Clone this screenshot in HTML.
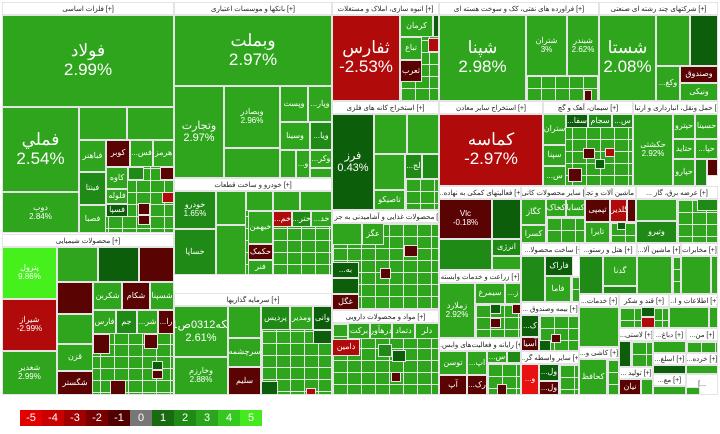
<!DOCTYPE html>
<html><head><meta charset="utf-8"><style>
*{margin:0;padding:0;box-sizing:border-box}
body{width:720px;height:434px;background:#fff;position:relative;overflow:hidden;font-family:"Liberation Sans","Noto Sans CJK SC",sans-serif}
.t{position:absolute;border:1px solid #e4e4e4;background:#2ea51c;color:#fff;display:flex;align-items:center;justify-content:center;text-align:center;font-size:8px;line-height:1.1;overflow:hidden}
.g{background-color:#2ea51c;background-image:linear-gradient(#e4e4e4 1px,transparent 1px),linear-gradient(90deg,#e4e4e4 1px,transparent 1px);background-size:14px 12px}
.h{position:absolute;background:#fff;border:1px solid #e4e4e4;color:#222;font-size:7px;display:flex;align-items:center;justify-content:center;overflow:hidden;white-space:nowrap}
.D{background:#0d5e0b}.M{background:#1f8a15}.R{background:#b00a0a}.K{background:#5a0303}.L{background:#45f01c}.B{background:#e81010}
.big{font-size:17px}.mid{font-size:11px}
.lg{position:absolute;top:410px;height:16px;width:22px;color:#fff;font-size:11px;display:flex;align-items:center;justify-content:center}
</style></head><body>
<div class="h" style="left:2px;top:2px;width:172px;height:13px">فلزات اساسی [+]</div>
<div class="t big" style="left:2px;top:15px;width:172px;height:92px">فولاد<br>2.99%</div>
<div class="t big" style="left:2px;top:107px;width:77px;height:85px">فملي<br>2.54%</div>
<div class="t" style="left:2px;top:192px;width:77px;height:41px">دوب<br>2.84%</div>
<div class="t g" style="left:79px;top:107px;width:95px;height:126px"></div>
<div class="t" style="left:79px;top:107px;width:48px;height:33px"></div>
<div class="t" style="left:127px;top:107px;width:47px;height:33px"></div>
<div class="t" style="left:79px;top:140px;width:27px;height:32px">فباهنر</div>
<div class="t K" style="left:106px;top:140px;width:24px;height:27px">کوبر</div>
<div class="t" style="left:130px;top:140px;width:23px;height:27px">...فس</div>
<div class="t" style="left:153px;top:140px;width:21px;height:27px">هرمز</div>
<div class="t M" style="left:79px;top:172px;width:27px;height:33px">فینتا</div>
<div class="t" style="left:106px;top:167px;width:22px;height:22px">کاوه</div>
<div class="t" style="left:106px;top:189px;width:22px;height:15px">فلوله</div>
<div class="t D" style="left:106px;top:204px;width:22px;height:13px">فسپا</div>
<div class="t" style="left:79px;top:205px;width:27px;height:28px">فصبا</div>
<div class="t M" style="left:128px;top:167px;width:16px;height:13px"></div>
<div class="t K" style="left:160px;top:167px;width:14px;height:13px"></div>
<div class="t R" style="left:162px;top:192px;width:12px;height:11px"></div>
<div class="t K" style="left:138px;top:203px;width:12px;height:12px"></div>
<div class="t K" style="left:138px;top:215px;width:12px;height:10px"></div>
<div class="h" style="left:174px;top:2px;width:158px;height:13px">بانکها و موسسات اعتباری [+]</div>
<div class="t big" style="left:174px;top:15px;width:158px;height:71px">وبملت<br>2.97%</div>
<div class="t mid" style="left:174px;top:86px;width:50px;height:92px">وتجارت<br>2.97%</div>
<div class="t" style="left:224px;top:86px;width:56px;height:62px">وبصادر<br>2.96%</div>
<div class="t" style="left:224px;top:148px;width:56px;height:30px"></div>
<div class="t" style="left:280px;top:86px;width:28px;height:36px">وپست</div>
<div class="t" style="left:308px;top:86px;width:24px;height:36px">...وپار</div>
<div class="t" style="left:280px;top:122px;width:30px;height:28px">وسینا</div>
<div class="t M" style="left:310px;top:122px;width:22px;height:28px">...ویا</div>
<div class="t" style="left:280px;top:150px;width:16px;height:28px"></div>
<div class="t" style="left:296px;top:150px;width:14px;height:28px">...و</div>
<div class="t" style="left:310px;top:150px;width:22px;height:18px">...وکر</div>
<div class="t" style="left:310px;top:168px;width:22px;height:10px"></div>
<div class="h" style="left:174px;top:178px;width:158px;height:13px">خودرو و ساخت قطعات [+]</div>
<div class="t M" style="left:174px;top:191px;width:42px;height:38px">خودرو<br>1.65%</div>
<div class="t M" style="left:174px;top:229px;width:42px;height:46px">خساپا</div>
<div class="t g" style="left:216px;top:191px;width:116px;height:84px"></div>
<div class="t" style="left:216px;top:191px;width:30px;height:34px"></div>
<div class="t" style="left:246px;top:191px;width:27px;height:20px"></div>
<div class="t" style="left:273px;top:191px;width:27px;height:20px"></div>
<div class="t" style="left:300px;top:191px;width:32px;height:20px"></div>
<div class="t" style="left:216px;top:225px;width:30px;height:50px"></div>
<div class="t" style="left:248px;top:211px;width:25px;height:33px">خبهمن</div>
<div class="t R" style="left:273px;top:211px;width:19px;height:16px">...خم</div>
<div class="t M" style="left:292px;top:211px;width:19px;height:16px">...ختر</div>
<div class="t" style="left:311px;top:211px;width:21px;height:16px">...خد</div>
<div class="t K" style="left:248px;top:244px;width:25px;height:16px">حکمک</div>
<div class="t" style="left:248px;top:260px;width:25px;height:15px">فنر</div>
<div class="h" style="left:174px;top:293px;width:158px;height:13px">سرمایه گذاریها [+]</div>
<div class="t mid" style="left:174px;top:306px;width:54px;height:51px">سکه0312ص01<br>2.61%</div>
<div class="t" style="left:174px;top:357px;width:54px;height:38px">وخارزم<br>2.88%</div>
<div class="t" style="left:228px;top:306px;width:33px;height:32px"></div>
<div class="t" style="left:228px;top:338px;width:33px;height:29px">سرچشمه</div>
<div class="t K" style="left:228px;top:367px;width:33px;height:28px">سلیم</div>
<div class="t g" style="left:261px;top:306px;width:71px;height:89px"></div>
<div class="t M" style="left:261px;top:306px;width:29px;height:24px">پردیس</div>
<div class="t" style="left:290px;top:306px;width:23px;height:24px">ومدیر</div>
<div class="t D" style="left:313px;top:306px;width:19px;height:24px">وانی</div>
<div class="t D" style="left:261px;top:381px;width:17px;height:14px"></div>
<div class="t D" style="left:313px;top:330px;width:19px;height:14px"></div>
<div class="t R" style="left:306px;top:388px;width:10px;height:7px"></div>
<div class="h" style="left:2px;top:234px;width:172px;height:13px">محصولات شیمیایی [+]</div>
<div class="t L" style="left:2px;top:247px;width:55px;height:52px">پترول<br>9.86%</div>
<div class="t R" style="left:2px;top:299px;width:55px;height:52px">شیراز<br>-2.99%</div>
<div class="t" style="left:2px;top:351px;width:55px;height:44px">شغدیر<br>2.99%</div>
<div class="t g" style="left:57px;top:247px;width:117px;height:148px"></div>
<div class="t" style="left:57px;top:247px;width:41px;height:35px"></div>
<div class="t D" style="left:98px;top:247px;width:41px;height:35px"></div>
<div class="t K" style="left:139px;top:247px;width:35px;height:35px"></div>
<div class="t K" style="left:57px;top:282px;width:36px;height:32px"></div>
<div class="t" style="left:93px;top:282px;width:29px;height:28px">شکربن</div>
<div class="t K" style="left:122px;top:282px;width:28px;height:28px">شکام</div>
<div class="t" style="left:150px;top:282px;width:24px;height:28px">شسپنا</div>
<div class="t" style="left:57px;top:314px;width:36px;height:30px"></div>
<div class="t" style="left:93px;top:310px;width:23px;height:24px">فارس</div>
<div class="t M" style="left:116px;top:310px;width:21px;height:24px">جم</div>
<div class="t" style="left:137px;top:310px;width:21px;height:24px">...شر</div>
<div class="t K" style="left:158px;top:310px;width:16px;height:24px">...را</div>
<div class="t" style="left:57px;top:344px;width:36px;height:27px">قزن</div>
<div class="t K" style="left:57px;top:371px;width:36px;height:24px">شگستر</div>
<div class="t K" style="left:93px;top:334px;width:17px;height:20px"></div>
<div class="t K" style="left:144px;top:334px;width:14px;height:15px"></div>
<div class="t K" style="left:110px;top:380px;width:16px;height:15px"></div>
<div class="t D" style="left:152px;top:361px;width:11px;height:9px"></div>
<div class="t K" style="left:152px;top:370px;width:11px;height:9px"></div>
<div class="h" style="left:332px;top:2px;width:107px;height:13px">انبوه سازی، املاک و مستغلات [+]</div>
<div class="t R big" style="left:332px;top:15px;width:68px;height:86px">ثفارس<br>-2.53%</div>
<div class="t g" style="left:400px;top:15px;width:39px;height:86px"></div>
<div class="t" style="left:400px;top:15px;width:33px;height:22px">کرمان</div>
<div class="t D" style="left:433px;top:15px;width:6px;height:22px"></div>
<div class="t" style="left:400px;top:37px;width:22px;height:23px">تباع</div>
<div class="t K" style="left:400px;top:60px;width:22px;height:22px">ثعرب</div>
<div class="t R" style="left:428px;top:38px;width:11px;height:14px"></div>
<div class="h" style="left:439px;top:2px;width:160px;height:13px">فراورده های نفتی، کک و سوخت هسته ای [+]</div>
<div class="t big" style="left:439px;top:15px;width:87px;height:86px">شپنا<br>2.98%</div>
<div class="t g" style="left:526px;top:15px;width:73px;height:86px"></div>
<div class="t" style="left:526px;top:15px;width:41px;height:61px">شتران<br>3%</div>
<div class="t" style="left:567px;top:15px;width:32px;height:61px">شبندر<br>2.62%</div>
<div class="t K" style="left:584px;top:90px;width:8px;height:11px"></div>
<div class="h" style="left:599px;top:2px;width:119px;height:13px">شرکتهای چند رشته ای صنعتی [+]</div>
<div class="t big" style="left:599px;top:15px;width:57px;height:86px">شستا<br>2.08%</div>
<div class="t" style="left:656px;top:15px;width:34px;height:51px"></div>
<div class="t D" style="left:690px;top:15px;width:28px;height:51px"></div>
<div class="t" style="left:656px;top:66px;width:24px;height:35px">...وکغ</div>
<div class="t K" style="left:680px;top:66px;width:38px;height:17px">وصندوق</div>
<div class="t" style="left:680px;top:83px;width:38px;height:18px">ونیکی</div>
<div class="h" style="left:332px;top:101px;width:107px;height:13px">استخراج کانه های فلزی [+]</div>
<div class="t D mid" style="left:332px;top:114px;width:42px;height:96px">فرز<br>0.43%</div>
<div class="t" style="left:374px;top:114px;width:33px;height:40px"></div>
<div class="t" style="left:407px;top:114px;width:32px;height:40px"></div>
<div class="t" style="left:374px;top:154px;width:31px;height:36px"></div>
<div class="t g" style="left:405px;top:154px;width:34px;height:56px"></div>
<div class="t M" style="left:405px;top:154px;width:17px;height:25px">...لج</div>
<div class="t M" style="left:422px;top:154px;width:17px;height:25px"></div>
<div class="t" style="left:374px;top:190px;width:31px;height:20px">تاصیکو</div>
<div class="h" style="left:439px;top:101px;width:104px;height:13px">استخراج سایر معادن [+]</div>
<div class="t R big" style="left:439px;top:114px;width:104px;height:72px">کماسه<br>-2.97%</div>
<div class="h" style="left:543px;top:101px;width:90px;height:13px">سیمان، آهک و گچ [+]</div>
<div class="t g" style="left:543px;top:114px;width:90px;height:72px"></div>
<div class="t" style="left:543px;top:114px;width:23px;height:31px">ستران</div>
<div class="t D" style="left:566px;top:114px;width:22px;height:14px">...سفا</div>
<div class="t M" style="left:588px;top:114px;width:24px;height:14px">سجام</div>
<div class="t M" style="left:612px;top:114px;width:21px;height:14px">...س</div>
<div class="t" style="left:543px;top:145px;width:23px;height:21px">سپنا</div>
<div class="t" style="left:543px;top:166px;width:23px;height:20px">...س</div>
<div class="t K" style="left:583px;top:148px;width:12px;height:11px"></div>
<div class="t R" style="left:605px;top:148px;width:10px;height:9px"></div>
<div class="t K" style="left:568px;top:168px;width:14px;height:14px"></div>
<div class="t D" style="left:595px;top:159px;width:10px;height:10px"></div>
<div class="h" style="left:633px;top:101px;width:85px;height:13px">...حمل ونقل، انبارداری و ارتبا [+]</div>
<div class="t" style="left:633px;top:114px;width:40px;height:72px">حکشتی<br>2.92%</div>
<div class="t" style="left:673px;top:114px;width:22px;height:25px">حپترو</div>
<div class="t" style="left:695px;top:114px;width:23px;height:25px">حسینا</div>
<div class="t" style="left:673px;top:139px;width:22px;height:20px">حتاید</div>
<div class="t" style="left:695px;top:139px;width:23px;height:20px">...حپا</div>
<div class="t" style="left:673px;top:159px;width:22px;height:27px">حپارو</div>
<div class="t M" style="left:695px;top:159px;width:12px;height:27px"></div>
<div class="t K" style="left:707px;top:159px;width:11px;height:17px"></div>
<div class="h" style="left:332px;top:210px;width:107px;height:13px">... محصولات غذایی و آشامیدنی به جز [+]</div>
<div class="t g" style="left:332px;top:223px;width:107px;height:87px"></div>
<div class="t" style="left:332px;top:223px;width:30px;height:22px"></div>
<div class="t" style="left:362px;top:223px;width:22px;height:22px">عگز</div>
<div class="t D" style="left:332px;top:262px;width:27px;height:16px">...به</div>
<div class="t D" style="left:332px;top:278px;width:27px;height:16px"></div>
<div class="t K" style="left:332px;top:294px;width:27px;height:16px">غگل</div>
<div class="t K" style="left:404px;top:245px;width:14px;height:12px"></div>
<div class="t K" style="left:380px;top:268px;width:11px;height:11px"></div>
<div class="h" style="left:332px;top:310px;width:107px;height:13px">مواد و محصولات دارویی [+]</div>
<div class="t g" style="left:332px;top:323px;width:107px;height:72px"></div>
<div class="t" style="left:348px;top:323px;width:22px;height:16px">برکت</div>
<div class="t" style="left:370px;top:323px;width:22px;height:16px">درهآور</div>
<div class="t" style="left:392px;top:323px;width:23px;height:16px">دتماد</div>
<div class="t" style="left:415px;top:323px;width:24px;height:16px">دلر</div>
<div class="t R" style="left:332px;top:339px;width:28px;height:17px">دامین</div>
<div class="t M" style="left:378px;top:344px;width:14px;height:13px"></div>
<div class="t D" style="left:392px;top:350px;width:14px;height:12px"></div>
<div class="t K" style="left:391px;top:372px;width:10px;height:10px"></div>
<div class="h" style="left:439px;top:186px;width:82px;height:13px">...فعالیتهای کمکی به نهاده [+]</div>
<div class="t K" style="left:439px;top:199px;width:53px;height:40px">Vlc<br>-0.18%</div>
<div class="t D" style="left:492px;top:199px;width:29px;height:40px"></div>
<div class="t M" style="left:439px;top:239px;width:53px;height:31px"></div>
<div class="t M" style="left:492px;top:239px;width:29px;height:17px">انرژی</div>
<div class="t" style="left:492px;top:256px;width:29px;height:14px"></div>
<div class="h" style="left:521px;top:186px;width:64px;height:13px">...سایر محصولات کانی [+]</div>
<div class="t" style="left:521px;top:199px;width:25px;height:26px">کگاز</div>
<div class="t" style="left:546px;top:199px;width:20px;height:18px">کخاک</div>
<div class="t" style="left:566px;top:199px;width:19px;height:18px">کسابا</div>
<div class="t g" style="left:546px;top:217px;width:39px;height:26px"></div>
<div class="t" style="left:521px;top:225px;width:25px;height:18px">کسرا</div>
<div class="h" style="left:585px;top:186px;width:51px;height:13px">...ماشین آلات و تجه [+]</div>
<div class="t K" style="left:585px;top:199px;width:25px;height:23px">تپمپی</div>
<div class="t R" style="left:610px;top:199px;width:17px;height:23px">گلدیرا</div>
<div class="t K" style="left:627px;top:199px;width:9px;height:23px"></div>
<div class="t" style="left:585px;top:222px;width:25px;height:21px">تایرا</div>
<div class="t g" style="left:610px;top:222px;width:26px;height:21px"></div>
<div class="t D" style="left:617px;top:222px;width:9px;height:8px"></div>
<div class="h" style="left:636px;top:186px;width:82px;height:13px">... عرضه برق، گاز [+]</div>
<div class="t" style="left:636px;top:199px;width:41px;height:22px"></div>
<div class="t M" style="left:636px;top:221px;width:41px;height:22px">وتیرو</div>
<div class="t g" style="left:677px;top:199px;width:41px;height:44px"></div>
<div class="t M" style="left:697px;top:199px;width:21px;height:12px"></div>
<div class="h" style="left:439px;top:270px;width:82px;height:13px">زراعت و خدمات وابسته [+]</div>
<div class="t" style="left:439px;top:283px;width:36px;height:55px">زملارد<br>2.92%</div>
<div class="t" style="left:475px;top:283px;width:30px;height:21px">سیمرغ</div>
<div class="t" style="left:505px;top:283px;width:16px;height:21px">...ز</div>
<div class="t g" style="left:475px;top:304px;width:46px;height:34px"></div>
<div class="t D" style="left:490px;top:304px;width:11px;height:10px"></div>
<div class="t K" style="left:512px;top:304px;width:9px;height:10px"></div>
<div class="t K" style="left:490px;top:318px;width:11px;height:10px"></div>
<div class="h" style="left:439px;top:338px;width:82px;height:13px">...رایانه و فعالیت‌های وابس [+]</div>
<div class="t" style="left:439px;top:351px;width:28px;height:24px">توسن</div>
<div class="t" style="left:467px;top:351px;width:20px;height:24px">...اپ</div>
<div class="t" style="left:487px;top:351px;width:20px;height:12px">...س</div>
<div class="t M" style="left:507px;top:351px;width:14px;height:12px"></div>
<div class="t g" style="left:487px;top:363px;width:34px;height:32px"></div>
<div class="t K" style="left:439px;top:375px;width:28px;height:20px">آپ</div>
<div class="t K" style="left:467px;top:375px;width:20px;height:20px">...رک</div>
<div class="t K" style="left:497px;top:384px;width:10px;height:11px"></div>
<div class="h" style="left:521px;top:243px;width:66px;height:13px">...ساخت محصولا [+]</div>
<div class="t M" style="left:521px;top:256px;width:24px;height:46px"></div>
<div class="t D" style="left:545px;top:256px;width:28px;height:20px">فاراک</div>
<div class="t" style="left:545px;top:276px;width:26px;height:26px">فاما</div>
<div class="t g" style="left:571px;top:276px;width:16px;height:26px"></div>
<div class="h" style="left:521px;top:302px;width:58px;height:13px">... بیمه وصندوق [+]</div>
<div class="t D" style="left:521px;top:315px;width:18px;height:22px">...ک</div>
<div class="t K" style="left:521px;top:337px;width:18px;height:14px">آسیا</div>
<div class="t g" style="left:539px;top:315px;width:40px;height:36px"></div>
<div class="t K" style="left:551px;top:334px;width:10px;height:9px"></div>
<div class="t D" style="left:539px;top:340px;width:12px;height:11px"></div>
<div class="h" style="left:521px;top:351px;width:58px;height:13px">...سایر واسطه گر [+]</div>
<div class="t B" style="left:521px;top:364px;width:18px;height:31px">...و</div>
<div class="t D" style="left:539px;top:364px;width:20px;height:17px">...ول</div>
<div class="t K" style="left:539px;top:381px;width:20px;height:14px">...ول</div>
<div class="t g" style="left:559px;top:364px;width:20px;height:31px"></div>
<div class="h" style="left:579px;top:243px;width:58px;height:13px">...هتل و رستو [+]</div>
<div class="t M" style="left:579px;top:256px;width:24px;height:38px"></div>
<div class="t" style="left:603px;top:256px;width:34px;height:30px">گدنا</div>
<div class="t M" style="left:603px;top:286px;width:34px;height:8px"></div>
<div class="h" style="left:637px;top:243px;width:44px;height:13px">...ماشین آلا [+]</div>
<div class="t" style="left:637px;top:256px;width:35px;height:38px"></div>
<div class="t g" style="left:672px;top:256px;width:9px;height:38px"></div>
<div class="h" style="left:681px;top:243px;width:37px;height:13px">مخابرات [+]</div>
<div class="t" style="left:681px;top:256px;width:30px;height:38px"></div>
<div class="t" style="left:711px;top:256px;width:7px;height:38px"></div>
<div class="h" style="left:579px;top:294px;width:40px;height:13px">...خدمات [+]</div>
<div class="t" style="left:579px;top:307px;width:40px;height:40px"></div>
<div class="h" style="left:579px;top:347px;width:40px;height:12px">...کاشی و [+]</div>
<div class="t" style="left:579px;top:359px;width:28px;height:36px">کحافظ</div>
<div class="t g" style="left:607px;top:359px;width:12px;height:36px"></div>
<div class="h" style="left:619px;top:294px;width:50px;height:13px">قند و شکر [+]</div>
<div class="t g" style="left:619px;top:307px;width:50px;height:21px"></div>
<div class="t D" style="left:641px;top:307px;width:14px;height:10px"></div>
<div class="t R" style="left:641px;top:317px;width:14px;height:11px"></div>
<div class="h" style="left:669px;top:294px;width:49px;height:13px">...اطلاعات و ا [+]</div>
<div class="t" style="left:669px;top:307px;width:40px;height:21px"></div>
<div class="t" style="left:709px;top:307px;width:9px;height:21px"></div>
<div class="h" style="left:619px;top:328px;width:34px;height:13px">...لاستی [+]</div>
<div class="t D" style="left:619px;top:341px;width:12px;height:26px"></div>
<div class="t g" style="left:631px;top:341px;width:22px;height:26px"></div>
<div class="h" style="left:653px;top:328px;width:33px;height:13px">...دباغ [+]</div>
<div class="t" style="left:653px;top:341px;width:33px;height:12px"></div>
<div class="h" style="left:686px;top:328px;width:32px;height:13px">...من [+]</div>
<div class="t g" style="left:686px;top:341px;width:32px;height:12px"></div>
<div class="h" style="left:653px;top:353px;width:33px;height:12px">...اسلغ [+]</div>
<div class="t D" style="left:653px;top:365px;width:33px;height:9px"></div>
<div class="h" style="left:686px;top:353px;width:32px;height:12px">...خرده [+]</div>
<div class="t" style="left:686px;top:365px;width:32px;height:9px"></div>
<div class="h" style="left:619px;top:367px;width:34px;height:12px">... تولید [+]</div>
<div class="t K" style="left:619px;top:379px;width:22px;height:16px">نیان</div>
<div class="t" style="left:641px;top:379px;width:12px;height:16px"></div>
<div class="h" style="left:653px;top:374px;width:33px;height:12px">...مع [+]</div>
<div class="t" style="left:653px;top:386px;width:33px;height:9px"></div>
<div class="h" style="left:686px;top:374px;width:32px;height:21px">[...</div>
<div class="t" style="left:686px;top:387px;width:14px;height:8px"></div>
<div class="lg" style="left:20px;background:#e00000">-5</div>
<div class="lg" style="left:42px;background:#c80000">-4</div>
<div class="lg" style="left:64px;background:#a00000">-3</div>
<div class="lg" style="left:86px;background:#780000">-2</div>
<div class="lg" style="left:108px;background:#500000">-1</div>
<div class="lg" style="left:130px;background:#777">0</div>
<div class="lg" style="left:152px;background:#1a6a12">1</div>
<div class="lg" style="left:174px;background:#1f8a16">2</div>
<div class="lg" style="left:196px;background:#2aa51d">3</div>
<div class="lg" style="left:218px;background:#35c820">4</div>
<div class="lg" style="left:240px;background:#44ea1e">5</div>
</body></html>
